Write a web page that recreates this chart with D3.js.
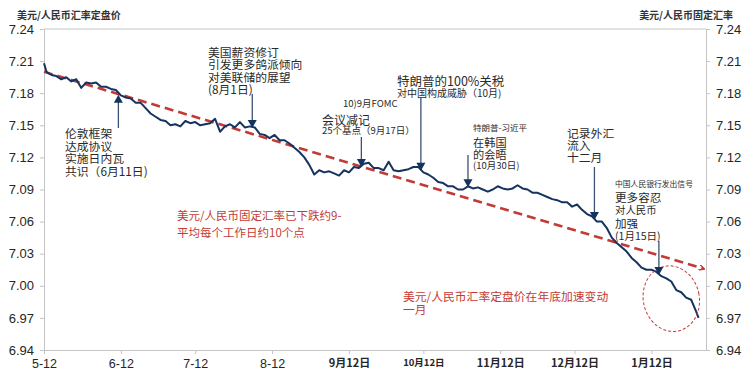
<!DOCTYPE html>
<html>
<head>
<meta charset="utf-8">
<script src="https://cdn.jsdelivr.net/npm/d3@7/dist/d3.min.js"></script>
<style>
  body { margin: 0; background: #fff; }
  svg { display: block; }
  .cjk { font-family: "Noto Sans CJK SC", sans-serif; }
  .num { font-family: "Liberation Sans", Arial, sans-serif; }
</style>
</head>
<body>
<div id="chart"></div>
<script>
// USD/CNY fixing, days counted from 2025-05-12
const startDate = new Date(Date.UTC(2025, 4, 12));
const dayOffsets = [0, 1, 3, 5, 7, 9, 11, 13, 15, 17, 19, 21, 23, 25, 27, 29, 31, 33, 35, 37, 39, 41, 43, 45, 47, 49,
  51, 53, 55, 57, 59, 61, 63, 65, 67, 69, 71, 73, 75, 77, 79, 81, 83, 85, 87, 89, 91, 93, 95, 97, 99,
  101, 103, 105, 107, 109, 111, 113, 115, 117, 119, 121, 123, 125, 127, 129, 131, 133, 135, 137, 139,
  141, 143, 145, 147, 149, 151, 153, 155, 157, 159, 161, 163, 165, 167, 169, 171, 173, 175, 177, 179,
  181, 183, 185, 187, 189, 191, 193, 195, 197, 199, 201, 203, 205, 207, 209, 211, 213, 215, 217, 219,
  221, 223, 225, 227, 229, 231, 233, 235, 237, 239, 241, 243, 245, 247, 249, 251, 253, 255, 257, 259,
  261, 263, 264];
const fixing = [7.208, 7.200, 7.197, 7.196, 7.193, 7.195, 7.191, 7.193, 7.185, 7.190, 7.189, 7.190, 7.186, 7.186,
  7.184, 7.183, 7.178, 7.176, 7.175, 7.171, 7.171, 7.166, 7.161, 7.158, 7.155, 7.154,
  7.150, 7.151, 7.149, 7.154, 7.152, 7.153, 7.150, 7.151, 7.152, 7.156, 7.144, 7.149, 7.151, 7.148, 7.153,
  7.148, 7.149, 7.148, 7.142, 7.141, 7.138, 7.141, 7.136, 7.136, 7.133,
  7.129, 7.125, 7.120, 7.113, 7.104, 7.108, 7.106, 7.107, 7.105, 7.103, 7.108, 7.106, 7.111, 7.110, 7.114,
  7.115, 7.110, 7.110, 7.108, 7.116, 7.108, 7.107, 7.108, 7.109, 7.111, 7.111, 7.106, 7.104, 7.101, 7.097,
  7.096, 7.093, 7.093, 7.090, 7.090, 7.093, 7.091, 7.092, 7.090, 7.088, 7.090, 7.093, 7.091, 7.090, 7.091,
  7.094, 7.091, 7.090, 7.087, 7.087, 7.085, 7.083, 7.081, 7.080, 7.078, 7.078, 7.074, 7.076, 7.071, 7.067,
  7.065, 7.060, 7.060, 7.054, 7.045, 7.040, 7.036, 7.032, 7.026, 7.022, 7.017, 7.015, 7.015, 7.013, 7.009,
  7.007, 7.004, 6.996, 6.994, 6.989, 6.987, 6.976, 6.970];

// dashed trend line
const trendDays = [0, 266];
const trendValues = [7.200, 7.016];

const yTicks = [6.94, 6.97, 7.00, 7.03, 7.06, 7.09, 7.12, 7.15, 7.18, 7.21, 7.24];
const xTickDates = ['2025-05-12', '2025-06-12', '2025-07-12', '2025-08-12', '2025-09-12',
  '2025-10-12', '2025-11-12', '2025-12-12', '2026-01-12'];
const xTickLabels = ['5-12', '6-12', '7-12', '8-12', '9月12日', '10月12日', '11月12日', '12月12日', '1月12日'];

// event arrows: day offset, tail y (px), direction
const arrows = [
  { day: 30, tail: 128, up: true },
  { day: 84, tail: 94 },
  { day: 128, tail: 137 },
  { day: 152, tail: 98 },
  { day: 171, tail: 155 },
  { day: 222, tail: 167 },
  { day: 248, tail: 241 }
];

const notes = [
  { x: 65, y: 132, size: 11.8, lines: ['伦敦框架', '达成协议', '实施日内瓦', '共识（6月11日)'], lh: 12.6 },
  { x: 208, y: 51, size: 11.8, lines: ['美国薪资修订', '引发更多鸽派倾向', '对美联储的展望', '(8月1日)'], lh: 12.4 },
  { x: 343, y: 103, size: 9.5, lines: ['10)9月FOMC'] },
  { x: 322, y: 119, size: 12, lines: ['会议减记'] },
  { x: 322, y: 130, size: 9.5, lines: ['25个基点（9月17日）'] },
  { x: 397, y: 80, size: 12.5, lines: ['特朗普的100%关税'] },
  { x: 397, y: 92, size: 10, lines: ['对中国构成威胁（10月)'] },
  { x: 473, y: 127, size: 8.5, lines: ['特朗普-习近平'] },
  { x: 473, y: 142, size: 11.2, lines: ['在韩国', '的会晤'], lh: 11.5 },
  { x: 473, y: 165, size: 9.5, lines: ['(10月30日)'] },
  { x: 567, y: 132, size: 11.8, lines: ['记录外汇', '流入', '十二月'], lh: 12 },
  { x: 615, y: 183, size: 7.8, lines: ['中国人民银行发出信号'] },
  { x: 615, y: 197, size: 11.6, lines: ['更多容忍'] },
  { x: 615, y: 209, size: 10.4, lines: ['对人民币'] },
  { x: 615, y: 223, size: 11.6, lines: ['加强'] },
  { x: 615, y: 235, size: 10.5, lines: ['(1月15日)'] },
  { x: 177, y: 215, size: 11.5, lines: ['美元/人民币固定汇率已下跌约9-', '平均每个工作日约10个点'], lh: 17, red: true },
  { x: 403, y: 295, size: 11.8, lines: ['美元/人民币汇率定盘价在年底加速变动', '一月'], lh: 12.5, red: true }
];

const navy = '#15335e', red = '#c33a36', grey = '#c4c4c4';
const W = 756, H = 378;
const margin = { top: 29, right: 50, bottom: 28, left: 44 };

const toDate = d => new Date(startDate.getTime() + d * 864e5);
const data = dayOffsets.map((d, i) => ({ date: toDate(d), value: fixing[i] }));

const x = d3.scaleUtc()
  .domain([startDate, new Date(Date.UTC(2026, 1, 3))])
  .range([margin.left, W - margin.right]);
const y = d3.scaleLinear().domain([6.94, 7.24]).range([H - margin.bottom, margin.top]);

const svg = d3.select('#chart').append('svg').attr('width', W).attr('height', H);

// frame top line
svg.append('line')
  .attr('x1', margin.left).attr('x2', W - margin.right)
  .attr('y1', margin.top).attr('y2', margin.top)
  .attr('stroke', grey);

const yFmt = d3.format('.2f');
const styleAxis = g => {
  g.select('.domain').attr('stroke', grey);
  g.selectAll('.tick line').attr('stroke', grey);
  g.selectAll('text').attr('fill', '#262626');
};

svg.append('g')
  .attr('transform', `translate(${margin.left},0)`)
  .call(d3.axisLeft(y).tickValues(yTicks).tickFormat(yFmt).tickSize(4).tickPadding(6).tickSizeOuter(0))
  .call(styleAxis)
  .selectAll('text').attr('class', 'num').style('font-size', '13px');

svg.append('g')
  .attr('transform', `translate(${W - margin.right},0)`)
  .call(d3.axisRight(y).tickValues(yTicks).tickFormat(yFmt).tickSize(4).tickPadding(6).tickSizeOuter(0))
  .call(styleAxis)
  .selectAll('text').attr('class', 'num').style('font-size', '13px');

const tickDates = xTickDates.map(s => new Date(s + 'T00:00:00Z'));
svg.append('g')
  .attr('transform', `translate(0,${H - margin.bottom})`)
  .call(d3.axisBottom(x).tickValues(tickDates).tickSize(4).tickPadding(5).tickSizeOuter(0)
    .tickFormat((d, i) => xTickLabels[i]))
  .call(styleAxis)
  .selectAll('text')
  .attr('class', (d, i) => i < 4 ? 'num' : 'cjk')
  .style('font-size', (d, i) => i < 4 ? '12.5px' : (i === 5 ? '9.5px' : '11px'))
  .style('font-weight', (d, i) => i < 4 ? 'normal' : 'bold');

// axis titles
svg.append('text').attr('class', 'cjk').attr('x', 17).attr('y', 19)
  .style('font-size', '10px').style('font-weight', 'bold').attr('fill', '#333')
  .text('美元/人民币汇率定盘价');
svg.append('text').attr('class', 'cjk').attr('x', 733).attr('y', 19).attr('text-anchor', 'end')
  .style('font-size', '10px').style('font-weight', 'bold').attr('fill', '#333')
  .text('美元/人民币固定汇率');

// defs: arrowheads
const defs = svg.append('defs');
defs.append('marker').attr('id', 'redhead')
  .attr('viewBox', '0 0 10 10').attr('refX', 8).attr('refY', 5)
  .attr('markerWidth', 6).attr('markerHeight', 6).attr('markerUnits', 'userSpaceOnUse')
  .attr('orient', 'auto')
  .append('path').attr('d', 'M0,0 L10,5 L0,10').attr('fill', 'none').attr('stroke', red).attr('stroke-width', 2.2);

// trend
const trend = trendDays.map((d, i) => ({ date: toDate(d), value: trendValues[i] }));
svg.append('path').datum(trend)
  .attr('d', d3.line().x(d => x(d.date)).y(d => y(d.value)))
  .attr('stroke', red).attr('stroke-width', 2.6).attr('stroke-dasharray', '9,5')
  .attr('fill', 'none').attr('marker-end', 'url(#redhead)');

// fixing line
svg.append('path').datum(data)
  .attr('d', d3.line().x(d => x(d.date)).y(d => y(d.value)))
  .attr('stroke', navy).attr('stroke-width', 2).attr('stroke-linejoin', 'round')
  .attr('fill', 'none');

// dashed ellipse
svg.append('ellipse')
  .attr('cx', x(toDate(253))).attr('cy', y(6.988))
  .attr('rx', 28).attr('ry', 33)
  .attr('transform', `rotate(-12 ${x(toDate(253))} ${y(6.988)})`)
  .attr('fill', 'none').attr('stroke', red).attr('stroke-width', 1).attr('stroke-dasharray', '3,2');

// event arrows
const valueAt = day => {
  const t = toDate(day);
  const i = d3.bisector(d => d.date).left(data, t);
  const a = data[Math.max(0, i - 1)], b = data[Math.min(data.length - 1, i)];
  if (a === b) return a.value;
  const k = (t - a.date) / (b.date - a.date);
  return a.value + (b.value - a.value) * k;
};
arrows.forEach(a => {
  const ax = x(toDate(a.day));
  const tip = y(valueAt(a.day)) + (a.up ? 2 : 1);
  const dir = a.up ? -1 : 1;
  svg.append('line').attr('x1', ax).attr('x2', ax).attr('y1', a.tail).attr('y2', tip - dir * 6)
    .attr('stroke', '#3b5272').attr('stroke-width', 1.3);
  svg.append('path')
    .attr('d', `M${ax - 4.5},${tip - dir * 8} L${ax + 4.5},${tip - dir * 8} L${ax},${tip} Z`)
    .attr('fill', navy);
});

// annotation texts
notes.forEach(n => {
  const t = svg.append('text').attr('class', 'cjk')
    .attr('x', n.x).attr('y', n.y)
    .attr('dominant-baseline', 'central')
    .style('font-size', n.size + 'px')
    .attr('fill', n.red ? red : '#2a2a2a');
  n.lines.forEach((s, i) => {
    t.append('tspan').attr('x', n.x).attr('y', n.y + i * (n.lh || 0)).text(s);
  });
});
</script>
</body>
</html>
